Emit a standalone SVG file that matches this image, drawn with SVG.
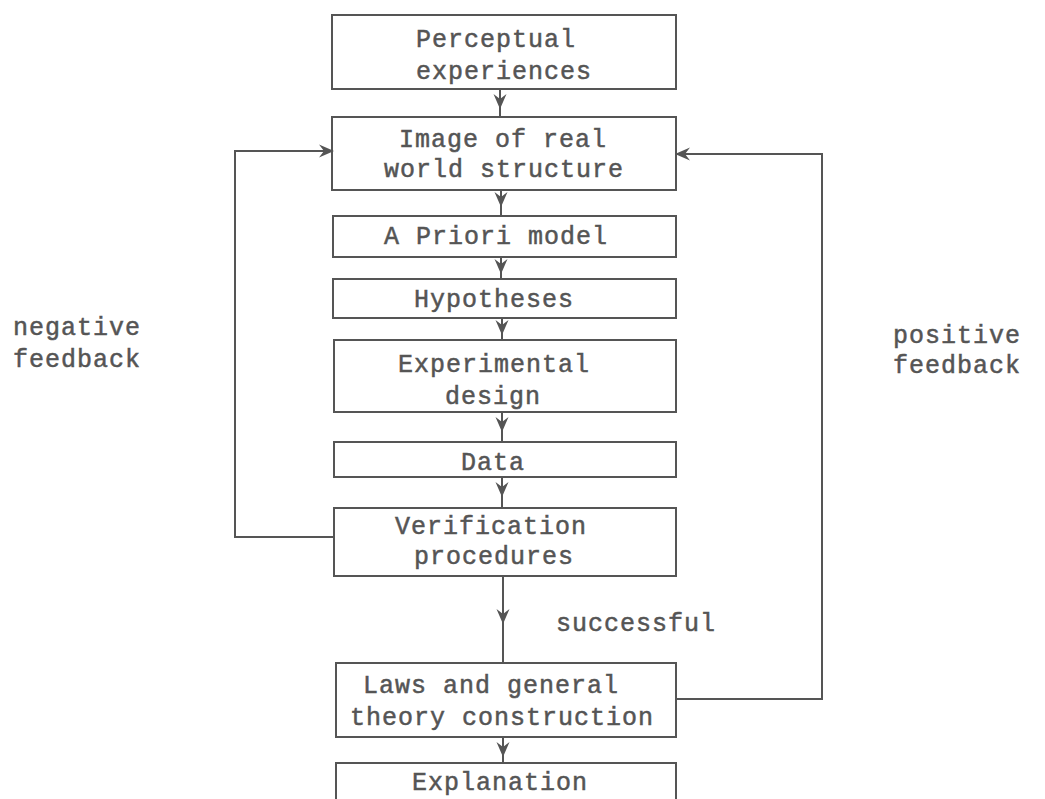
<svg xmlns="http://www.w3.org/2000/svg" width="1045" height="799" viewBox="0 0 1045 799">
  <style>
    .box { fill: none; stroke: #555; stroke-width: 2; }
    .wire { fill: none; stroke: #555; stroke-width: 2; }
    text { font-family: "Liberation Mono", "DejaVu Sans Mono", monospace; font-size: 25px; letter-spacing: 1px; fill: #555; stroke: #555; stroke-width: 0.5px; }
  </style>
  <defs>
    <marker id="head" viewBox="-16 -8 18 16" markerWidth="18" markerHeight="16" refX="0" refY="0" orient="auto" markerUnits="userSpaceOnUse">
      <path d="M1,0 L-14,-6.5 L-9,0 L-14,6.5 Z" fill="#555"/>
    </marker>
  </defs>
  <rect width="1045" height="799" fill="#fff"/>

  <!-- flow connectors -->
  <g id="connectors">
    <polyline class="wire" points="500,89 500,108 500,117" marker-mid="url(#head)"/>
    <polyline class="wire" points="501,190 501,206 501,216" marker-mid="url(#head)"/>
    <polyline class="wire" points="501,257 501,273 501,279" marker-mid="url(#head)"/>
    <polyline class="wire" points="502,318 502,334 502,340" marker-mid="url(#head)"/>
    <polyline class="wire" points="502,412 502,431 502,442" marker-mid="url(#head)"/>
    <polyline class="wire" points="502,477 502,496 502,508" marker-mid="url(#head)"/>
    <polyline class="wire" points="503,576 503,623 503,663" marker-mid="url(#head)"/>
    <polyline class="wire" points="503,737 503,756 503,763" marker-mid="url(#head)"/>
    <!-- negative feedback loop -->
    <polyline class="wire" points="333,537 235,537 235,151 333,151" marker-end="url(#head)"/>
    <!-- positive feedback loop -->
    <polyline class="wire" points="676,699 822,699 822,154 676,154" marker-end="url(#head)"/>
    <text x="556" y="631">successful</text>
  </g>

  <g id="perceptual">
    <rect class="box" x="332" y="15" width="344" height="74"/>
    <text x="416" y="47">Perceptual</text>
    <text x="416" y="79">experiences</text>
  </g>
  <g id="image">
    <rect class="box" x="332" y="117" width="344" height="73"/>
    <text x="399" y="147">Image of real</text>
    <text x="384" y="177">world structure</text>
  </g>
  <g id="apriori">
    <rect class="box" x="333" y="216" width="343" height="41"/>
    <text x="384" y="244">A Priori model</text>
  </g>
  <g id="hypotheses">
    <rect class="box" x="333" y="279" width="343" height="39"/>
    <text x="414" y="307">Hypotheses</text>
  </g>
  <g id="design">
    <rect class="box" x="334" y="340" width="342" height="72"/>
    <text x="398" y="372">Experimental</text>
    <text x="445" y="404">design</text>
  </g>
  <g id="data">
    <rect class="box" x="334" y="442" width="342" height="35"/>
    <text x="461" y="470">Data</text>
  </g>
  <g id="verification">
    <rect class="box" x="334" y="508" width="342" height="68"/>
    <text x="395" y="534">Verification</text>
    <text x="414" y="564">procedures</text>
  </g>
  <g id="laws">
    <rect class="box" x="336" y="663" width="340" height="74"/>
    <text x="363" y="693">Laws and general</text>
    <text x="350" y="725">theory construction</text>
  </g>
  <g id="explanation">
    <rect class="box" x="336" y="763" width="340" height="60"/>
    <text x="412" y="790">Explanation</text>
  </g>

  <g id="labels">
    <text x="13" y="335">negative</text>
    <text x="13" y="367">feedback</text>
    <text x="893" y="343">positive</text>
    <text x="893" y="373">feedback</text>
  </g>
</svg>
